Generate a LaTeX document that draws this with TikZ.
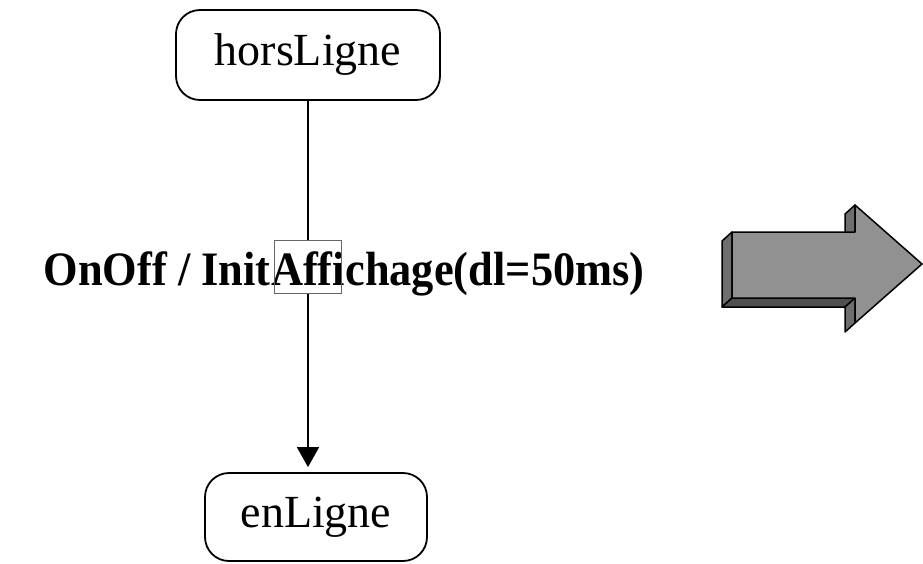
\documentclass[tikz,border=0pt]{standalone}
\usepackage{fontspec}
\setmainfont{Liberation Serif}
\usetikzlibrary{arrows.meta}
\definecolor{facegray}{HTML}{919191}
\definecolor{sidegray}{HTML}{6E6E6E}
\definecolor{lowgray}{HTML}{505050}
\newcommand{\sqz}[1]{\scalebox{0.925}[1]{#1}}
\begin{document}
\begin{tikzpicture}[x=1pt, y=-1pt,
    state/.style={draw, line width=1.8pt, rounded corners=24pt, font=\fontsize{46}{50}\selectfont, inner sep=0pt},
    trans/.style={line width=1.6pt, -{Triangle[length=20pt,width=22pt]}},
    lbl/.style={font=\fontsize{48}{52}\selectfont\bfseries, inner sep=0pt},
    selframe/.style={draw=black!60, line width=0.8pt},
    face/.style={draw, line width=1.5pt, line join=round}]
  \useasboundingbox (0,0) rectangle (923,563);
  \node[state, minimum width=264pt, minimum height=90pt] (hors) at (308,55) {horsLigne};
  \node[state, minimum width=222pt, minimum height=88pt] (en) at (316,517) {enLigne};
  \draw[trans, shorten >=5pt] (hors.south) -- (hors.south |- en.north);
  % label of the transition
  \node[lbl, anchor=base, fill=white, text height=44pt, text depth=8pt] (sel) at (308,285) {\sqz{Affi}};
  \node[lbl, anchor=base east] (evt) at (sel.base west) {\sqz{OnOff / Init}};
  \node[lbl, anchor=base west] (act) at (sel.base east) {\sqz{chage(dl=50ms)}};
  \draw[selframe] ([xshift=4pt]sel.north west) rectangle ([xshift=-4pt]sel.south east);
  % 3d arrow
  \fill[face, fill=sidegray] (732,232) -- (722,241) -- (722,307) -- (732,298) -- cycle;
  \fill[face, fill=lowgray] (732,298) -- (722,307) -- (845,307) -- (855,298) -- cycle;
  \fill[face, fill=sidegray] (855,205) -- (845,214) -- (845,241) -- (855,232) -- cycle;
  \fill[face, fill=sidegray] (855,298) -- (845,307) -- (845,332) -- (855,323) -- cycle;
  \fill[face, fill=facegray] (732,232) -- (855,232) -- (855,205) -- (922,264) -- (855,323) -- (855,298) -- (732,298) -- cycle;
\end{tikzpicture}
\end{document}
